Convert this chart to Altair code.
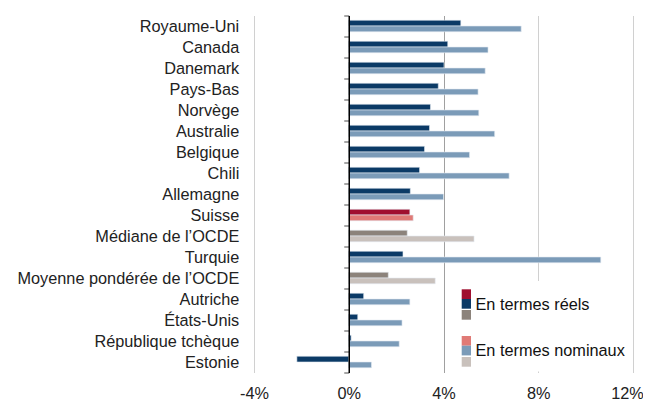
import altair as alt
import pandas as pd

categories = ["Royaume-Uni", "Canada", "Danemark", "Pays-Bas", "Norvège", "Australie",
              "Belgique", "Chili", "Allemagne", "Suisse", "Médiane de l\u2019OCDE", "Turquie",
              "Moyenne pondérée de l\u2019OCDE", "Autriche", "États-Unis", "République tchèque", "Estonie"]
reel = [4.73, 4.18, 4.02, 3.78, 3.45, 3.41, 3.20, 2.99, 2.60, 2.58, 2.47, 2.29, 1.67, 0.63, 0.38, 0.10, -2.19]
nominal = [7.28, 5.88, 5.76, 5.46, 5.49, 6.16, 5.10, 6.77, 4.00, 2.72, 5.29, 10.64, 3.65, 2.58, 2.25, 2.13, 0.96]
groups = ["pays"] * 9 + ["suisse", "ocde", "pays", "ocde"] + ["pays"] * 4
x_ticks = [-4, 0, 4, 8, 12]
legend_labels = ["En termes réels", "En termes nominaux"]

color_domain = ["pays-reel", "pays-nom", "suisse-reel", "suisse-nom", "ocde-reel", "ocde-nom"]
color_range = ["#0b3a66", "#7b9bb8", "#a00f2f", "#e07a76", "#8c837b", "#c9c1bc"]

rows = []
for c, g, r, n in zip(categories, groups, reel, nominal):
    rows.append({"cat": c, "mesure": "a_reel", "val": r, "key": f"{g}-reel"})
    rows.append({"cat": c, "mesure": "b_nom", "val": n, "key": f"{g}-nom"})
df = pd.DataFrame(rows)

W, H = 379, 357
zero_px = W * 4 / 16
FONT = "Liberation Sans"
FS = 16.3

base = alt.Chart(df)

bars = base.mark_bar(stroke="#e4ebf2", strokeWidth=0.6).encode(
    x=alt.X("val:Q", scale=alt.Scale(domain=[-4, 12], nice=False, zero=False),
            axis=alt.Axis(values=x_ticks, labelExpr="datum.value + '%'", grid=True,
                          gridColor={"condition": {"test": "datum.value == 4", "value": "#a0a0a0"},
                                     "value": "#d0d0d0"},
                          gridWidth=1, domain=False, ticks=False,
                          tickSize=0, labelPadding=13, labelFontSize=FS, labelFont=FONT,
                          labelFlush=False, labelColor="#222222", title=None,
                          labelOffset={"condition": {"test": "datum.value == 12", "value": -6},
                                       "value": 0})),
    y=alt.Y("cat:N", sort=categories,
            scale=alt.Scale(paddingInner=0, paddingOuter=0),
            axis=alt.Axis(offset=-zero_px, domainColor="#000000", domainWidth=1.5,
                          tickColor="#888888", tickSize=5, tickWidth=1.5, tickBand="extent",
                          labelPadding=105, labelFontSize=FS, labelFont=FONT, labelLimit=400,
                          labelColor="#222222", title=None, zindex=1)),
    yOffset=alt.YOffset("mesure:N", scale=alt.Scale(paddingOuter=0.82, paddingInner=0)),
    color=alt.Color("key:N", scale=alt.Scale(domain=color_domain, range=color_range), legend=None),
)

layers = [bars]

box = alt.Chart(pd.DataFrame({"k": [0]})).mark_rect(color="white").encode(
    x=alt.value(192), x2=alt.value(377), y=alt.value(265.5), y2=alt.value(356)
)
layers.append(box)

sq_x0, sq_x1 = 207.7, 217
real_sq = [("#a00f2f", 273.8), ("#0b3a66", 283.5), ("#8c837b", 294.5)]
nom_sq = [("#e07a76", 320.5), ("#7b9bb8", 330.2), ("#c9c1bc", 341.5)]
for col, y0 in real_sq + nom_sq:
    layers.append(alt.Chart(pd.DataFrame({"k": [0]})).mark_rect(color=col).encode(
        x=alt.value(sq_x0), x2=alt.value(sq_x1), y=alt.value(y0), y2=alt.value(y0 + 9.7)))

for lab, yc in zip(legend_labels, [289.5, 335.5]):
    layers.append(alt.Chart(pd.DataFrame({"t": [lab]})).mark_text(
        align="left", baseline="middle", font=FONT, fontSize=FS, color="#111111").encode(
        x=alt.value(221.5), y=alt.value(yc), text="t:N"))

chart = alt.layer(*layers).properties(
    width=W, height=H,
    autosize=alt.AutoSizeParams(type="none"),
    padding={"left": 246, "top": 7.5, "right": 10, "bottom": 29},
).configure_view(stroke=None)

chart.save("out.html", embed_options={"renderer": "svg", "actions": False})
